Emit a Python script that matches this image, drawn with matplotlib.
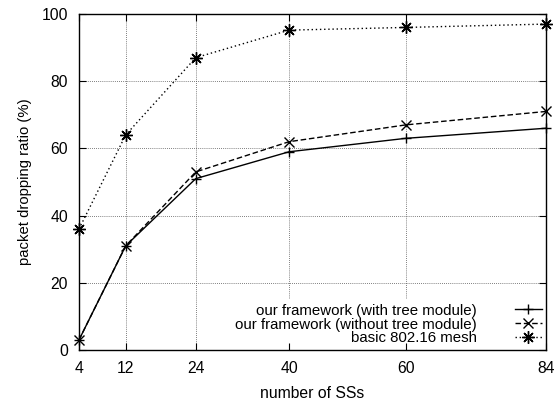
import matplotlib
matplotlib.use("Agg")
import matplotlib.pyplot as plt

plt.rcParams['font.family'] = ['Liberation Sans', 'DejaVu Sans']

ss = [4, 12, 24, 40, 60, 84]
with_tree = [3, 31, 51, 59, 63, 66]
without_tree = [3, 31, 53, 62, 67, 71]
basic_mesh = [36, 64, 87, 95.2, 96, 97]
labels = ["our framework (with tree module)",
          "our framework (without tree module)",
          "basic 802.16 mesh"]
yticks = [0, 20, 40, 60, 80, 100]

fs = 11.3

fig = plt.figure(figsize=(5.59, 4.0), dpi=100)
ax = fig.add_axes([79/559, 1-350/400, (546-79)/559, (350-14)/400])

# grid drawn below everything (legend box hides it, as in the reference)
for xv in ss:
    ax.axvline(xv, color='#555555', ls=(0, (1, 1.5)), lw=0.6, zorder=1)
for yv in yticks:
    ax.axhline(yv, color='#555555', ls=(0, (1, 1.5)), lw=0.6, zorder=1)

lw = 1.0
ax.plot(ss, with_tree, color='black', lw=lw, ls='-', marker='+', ms=7.5, mew=1.0,
        label=labels[0], zorder=5, clip_on=False)
ax.plot(ss, without_tree, color='black', lw=lw, ls=(0, (4, 2)), marker='x', ms=7, mew=1.0,
        label=labels[1], zorder=5, clip_on=False)
ax.plot(ss, basic_mesh, color='black', lw=lw, ls=(0, (1, 2)), marker=(8, 2, 0), ms=9, mew=1.0,
        label=labels[2], zorder=5, clip_on=False)

ax.set_xlim(4, 84)
ax.set_ylim(0, 100)
ax.set_xticks(ss)
ax.set_yticks(yticks)
ax.tick_params(direction='in', top=True, right=True, length=5, width=0.8, labelsize=fs, pad=8)
ax.set_axisbelow(False)
for s in ax.spines.values():
    s.set_linewidth(1.0)

ax.set_xlabel("number of SSs", fontsize=fs, labelpad=7)
ax.set_ylabel("packet dropping ratio (%)", fontsize=fs - 0.6, labelpad=7)

leg = ax.legend(loc='lower right', markerfirst=False, frameon=True, fontsize=10.8,
                handlelength=1.8, handletextpad=2.5, labelspacing=0.0,
                borderpad=0.3, borderaxespad=0.0, fancybox=False)
leg.get_frame().set_edgecolor('none')
leg.get_frame().set_facecolor('white')
leg.get_frame().set_alpha(1.0)
leg.set_zorder(2)

fig.savefig("out.png", dpi=100)
